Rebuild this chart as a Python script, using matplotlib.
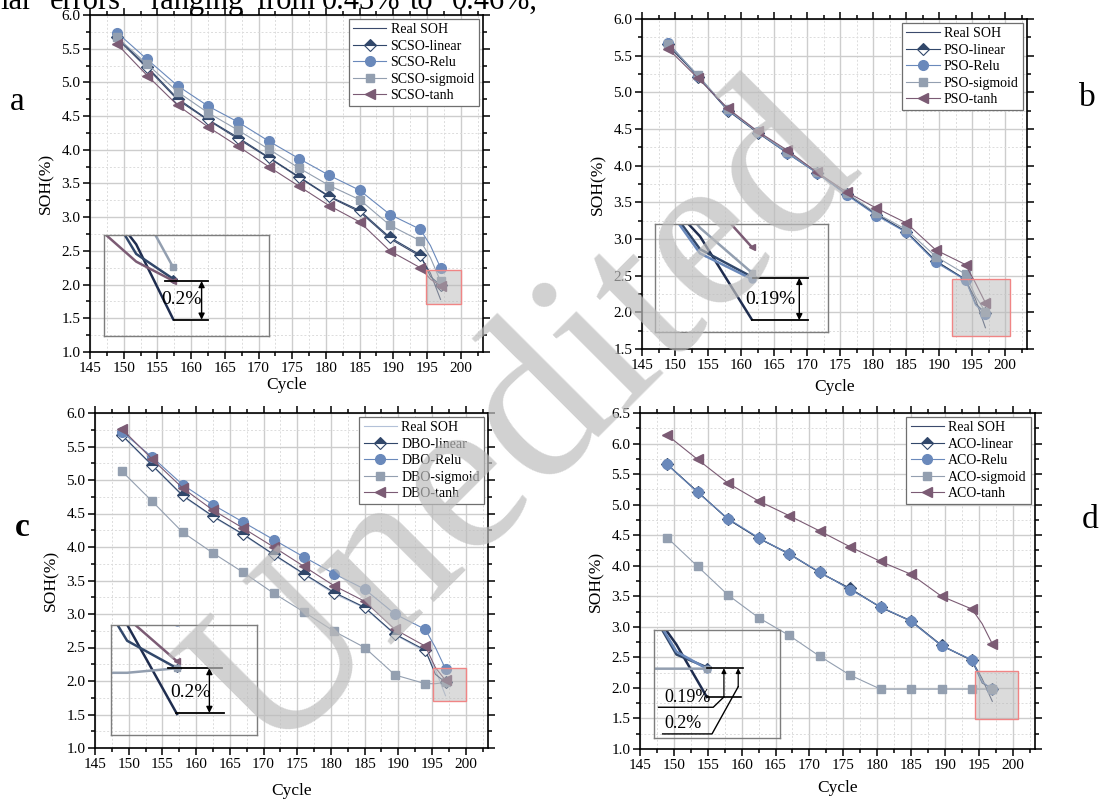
import numpy as np
import matplotlib
matplotlib.use("Agg")
import matplotlib.pyplot as plt
from matplotlib.patches import Rectangle
from matplotlib.ticker import MultipleLocator

plt.rcParams['font.family'] = ['Liberation Serif', 'DejaVu Serif']

# cycles: markers on every point except the 195.5 one
cycle = [149, 153.5, 158, 162.5, 167, 171.5, 176, 180.5, 185, 189.5, 194, 195.5, 197]
mark_idx = [0, 1, 2, 3, 4, 5, 6, 7, 8, 9, 10, 12]

# panel a - SCSO
real_a = [5.65, 5.21, 4.74, 4.44, 4.16, 3.88, 3.59, 3.30, 3.08, 2.68, 2.42, 2.17, 1.78]
lin_a = [5.67, 5.23, 4.76, 4.45, 4.18, 3.89, 3.60, 3.31, 3.10, 2.70, 2.44, 2.12, 1.99]
relu_a = [5.74, 5.34, 4.95, 4.65, 4.41, 4.13, 3.87, 3.62, 3.40, 3.04, 2.82, 2.58, 2.25]
sig_a = [5.67, 5.27, 4.86, 4.55, 4.29, 4.01, 3.73, 3.47, 3.26, 2.88, 2.65, 2.40, 2.05]
tanh_a = [5.57, 5.10, 4.66, 4.34, 4.05, 3.75, 3.46, 3.17, 2.93, 2.50, 2.25, 2.08, 1.98]

# panel b - PSO
real_b = [5.63, 5.22, 4.76, 4.46, 4.18, 3.91, 3.61, 3.34, 3.10, 2.70, 2.44, 2.18, 1.79]
lin_b = [5.66, 5.21, 4.75, 4.45, 4.17, 3.90, 3.61, 3.33, 3.10, 2.70, 2.45, 2.12, 1.99]
relu_b = [5.67, 5.22, 4.76, 4.46, 4.17, 3.90, 3.60, 3.32, 3.09, 2.68, 2.44, 2.10, 1.98]
sig_b = [5.66, 5.23, 4.77, 4.46, 4.19, 3.91, 3.63, 3.35, 3.13, 2.76, 2.52, 2.22, 2.01]
tanh_b = [5.59, 5.19, 4.78, 4.47, 4.21, 3.91, 3.64, 3.42, 3.22, 2.85, 2.65, 2.40, 2.13]

# panel c - DBO
real_c = [5.66, 5.21, 4.76, 4.45, 4.18, 3.88, 3.59, 3.30, 3.09, 2.69, 2.44, 2.17, 1.78]
lin_c = [5.67, 5.22, 4.77, 4.46, 4.19, 3.89, 3.60, 3.32, 3.10, 2.70, 2.46, 2.10, 1.98]
relu_c = [5.72, 5.34, 4.93, 4.63, 4.37, 4.11, 3.85, 3.60, 3.37, 3.00, 2.77, 2.50, 2.18]
sig_c = [5.13, 4.68, 4.22, 3.91, 3.62, 3.31, 3.03, 2.74, 2.50, 2.09, 1.96, 1.96, 1.98]
tanh_c = [5.76, 5.31, 4.88, 4.55, 4.28, 4.00, 3.71, 3.42, 3.19, 2.77, 2.52, 2.20, 2.01]

# panel d - ACO
real_d = [5.66, 5.21, 4.76, 4.45, 4.19, 3.89, 3.62, 3.32, 3.09, 2.69, 2.45, 2.15, 1.78]
lin_d = [5.66, 5.21, 4.76, 4.45, 4.20, 3.89, 3.63, 3.32, 3.10, 2.70, 2.45, 2.08, 1.99]
relu_d = [5.66, 5.20, 4.77, 4.46, 4.19, 3.90, 3.61, 3.33, 3.09, 2.69, 2.46, 2.10, 1.98]
sig_d = [4.46, 3.99, 3.52, 3.15, 2.86, 2.52, 2.21, 1.98, 1.98, 1.98, 1.98, 1.98, 1.98]
tanh_d = [6.14, 5.74, 5.35, 5.06, 4.82, 4.57, 4.31, 4.07, 3.86, 3.50, 3.29, 3.05, 2.72]

suffixes = ['linear', 'Relu', 'sigmoid', 'tanh']

NAVY = '#1f2d4f'
LIN = '#31476a'
RELU = '#6a89bb'
SIG = '#939fb0'
TANH = '#7b5b74'


def style_axes(ax, ylim, ystep_major):
    ax.set_xlim(145, 203.3)
    ax.set_ylim(*ylim)
    ax.xaxis.set_major_locator(MultipleLocator(5))
    ax.xaxis.set_minor_locator(MultipleLocator(2.5))
    ax.yaxis.set_major_locator(MultipleLocator(ystep_major))
    ax.yaxis.set_minor_locator(MultipleLocator(ystep_major / 2))
    ax.yaxis.set_major_formatter(plt.FormatStrFormatter('%.1f'))
    ax.tick_params(which='both', direction='out', top=True, right=True,
                   labelsize=11, width=1.1, pad=2)
    ax.tick_params(which='major', length=5)
    ax.tick_params(which='minor', length=3)
    ax.grid(which='major', color='#cdcdcd', lw=1.0)
    ax.grid(which='minor', color='#dcdcdc', lw=0.7, ls=(0, (2, 2)))
    ax.set_axisbelow(True)
    for s in ax.spines.values():
        s.set_linewidth(1.2)


def plot_series(ax, series, real_color, lw, ms, labels=None):
    real, lin, relu, sig, tanh = series
    lab = labels if labels else [None] * 5
    ax.plot(cycle, real, color=real_color, lw=lw, label=lab[0])
    ax.plot(cycle, lin, color=LIN, lw=lw, marker='D', ms=ms * 0.85,
            fillstyle='top', markerfacecolor=LIN, markerfacecoloralt='white',
            markeredgecolor=LIN, markeredgewidth=0.8, markevery=mark_idx, label=lab[1])
    ax.plot(cycle, relu, color=RELU, lw=lw, marker='o', ms=ms,
            markerfacecolor=RELU, markeredgecolor=RELU, markevery=mark_idx, label=lab[2])
    ax.plot(cycle, sig, color=SIG, lw=lw, marker='s', ms=ms * 0.9,
            markerfacecolor=SIG, markeredgecolor=SIG, markevery=mark_idx, label=lab[3])
    ax.plot(cycle, tanh, color=TANH, lw=lw, marker='<', ms=ms,
            markerfacecolor=TANH, markeredgecolor=TANH, markevery=mark_idx, label=lab[4])


def draw_panel(ax, name, series, ylim, real_color, red_box, inset_box, inset_lim):
    style_axes(ax, ylim, 0.5)
    labels = ['Real SOH'] + [f'{name}-{s}' for s in suffixes]
    plot_series(ax, series, real_color, 0.8, 7, labels)
    leg = ax.legend(loc='upper right', fontsize=10, fancybox=False, framealpha=1,
                    edgecolor='#6f6f6f', handlelength=2.4, handletextpad=0.3,
                    labelspacing=0.25, borderpad=0.3, borderaxespad=0.3)
    leg.get_frame().set_linewidth(0.9)
    ax.set_xlabel('Cycle', fontsize=12.5, labelpad=2)
    ax.set_ylabel('SOH(%)', fontsize=12.5, labelpad=5)

    x0, x1, y0, y1 = red_box
    ax.add_patch(Rectangle((x0, y0), x1 - x0, y1 - y0, facecolor=(0.72, 0.72, 0.72, 0.5),
                           edgecolor='#f08585', lw=1.0, zorder=4))

    bx0, bx1, by0, by1 = inset_box
    iax = ax.inset_axes([bx0, by0, bx1 - bx0, by1 - by0], transform=ax.transData)
    iax.patch.set_alpha(0)
    iax.set_xticks([])
    iax.set_yticks([])
    for s in iax.spines.values():
        s.set_color('#7d7d7d')
        s.set_linewidth(1.0)
    plot_series(iax, series, NAVY, 1.8, 5)
    iax.set_xlim(*inset_lim[:2])
    iax.set_ylim(*inset_lim[2:])
    return iax


def gap_arrow(iax, top, bot, ax_x, label, txy, fs):
    # top / bot: (x_start, x_end, y) in inset axes fractions
    tr = iax.transAxes
    iax.plot(top[:2], [top[2]] * 2, color='black', lw=1.3, transform=tr, clip_on=False)
    iax.plot(bot[:2], [bot[2]] * 2, color='black', lw=1.3, transform=tr, clip_on=False)
    iax.annotate('', xy=(ax_x, top[2]), xytext=(ax_x, bot[2]), xycoords=tr, textcoords=tr,
                 arrowprops=dict(arrowstyle='<|-|>', color='black', lw=1.0,
                                 mutation_scale=9, shrinkA=0, shrinkB=0))
    iax.text(*txy, label, transform=tr, ha='center', va='center', fontsize=fs)


fig = plt.figure(figsize=(11.02, 8.0), dpi=100)

ax_a = fig.add_axes([90 / 1102, 1 - 352 / 800, 393 / 1102, 337 / 800])
ax_b = fig.add_axes([642 / 1102, 1 - 349 / 800, 385 / 1102, 330 / 800])
ax_c = fig.add_axes([95 / 1102, 1 - 748 / 800, 393 / 1102, 335 / 800])
ax_d = fig.add_axes([640 / 1102, 1 - 749 / 800, 395 / 1102, 336 / 800])

ia = draw_panel(ax_a, 'SCSO', (real_a, lin_a, relu_a, sig_a, tanh_a), (1.0, 6.0), '#3b4a6c',
                (194.9, 200.0, 1.71, 2.21), (147.1, 171.6, 1.23, 2.74), (194.2, 200.9, 1.69, 2.22))
ib = draw_panel(ax_b, 'PSO', (real_b, lin_b, relu_b, sig_b, tanh_b), (1.5, 6.0), '#3b4a6c',
                (191.9, 200.8, 1.68, 2.45), (147.0, 173.1, 1.73, 3.21), (194.2, 199.2, 1.73, 2.24))
ic = draw_panel(ax_c, 'DBO', (real_c, lin_c, relu_c, sig_c, tanh_c), (1.0, 6.0), '#b3c1d8',
                (195.1, 200.0, 1.70, 2.19), (147.3, 169.0, 1.20, 2.84), (195.0, 199.4, 1.69, 2.17))
id_ = draw_panel(ax_d, 'ACO', (real_d, lin_d, relu_d, sig_d, tanh_d), (1.0, 6.5), '#3b4a6c',
                 (194.4, 200.8, 1.49, 2.28), (147.1, 165.6, 1.18, 2.94), (194.4, 200.6, 1.49, 2.25))

ax_b.set_xlabel('Cycle', fontsize=12.5, labelpad=5)
ax_c.set_xlabel('Cycle', fontsize=12.5, labelpad=9)
ax_d.set_xlabel('Cycle', fontsize=12.5, labelpad=6)

gap_arrow(ia, (0.37, 0.63, 0.545), (0.42, 0.63, 0.165), 0.59, '0.2%', (0.47, 0.36), 14)
gap_arrow(ib, (0.57, 0.885, 0.50), (0.56, 0.885, 0.11), 0.836, '0.19%', (0.67, 0.30), 14)
gap_arrow(ic, (0.39, 0.76, 0.606), (0.45, 0.775, 0.197), 0.676, '0.2%', (0.548, 0.385), 14)

# panel d: two arrows with leader lines
tr = id_.transAxes
id_.plot([0.42, 0.71], [0.649, 0.649], color='black', lw=1.2, transform=tr)
id_.plot([0.42, 0.69], [0.382, 0.382], color='black', lw=1.2, transform=tr)
for xa, ya in [(0.556, 0.382), (0.67, 0.477)]:
    id_.annotate('', xy=(xa, 0.649), xytext=(xa, ya), xycoords=tr, textcoords=tr,
                 arrowprops=dict(arrowstyle='-|>', color='black', lw=0.9,
                                 mutation_scale=7, shrinkA=0, shrinkB=0))
id_.plot([0.556, 0.471, 0.034], [0.382, 0.286, 0.286], color='black', lw=1.0, transform=tr)
id_.plot([0.67, 0.461, 0.067], [0.477, 0.038, 0.038], color='black', lw=1.0, transform=tr)
id_.text(0.08, 0.30, '0.19%', transform=tr, fontsize=13, ha='left', va='bottom')
id_.text(0.08, 0.06, '0.2%', transform=tr, fontsize=13, ha='left', va='bottom')

# panel letters
fig.text(17 / 1102, 1 - 102 / 800, 'a', fontsize=24, ha='center', va='center')
fig.text(1087 / 1102, 1 - 98 / 800, 'b', fontsize=24, ha='center', va='center')
fig.text(22 / 1102, 1 - 527 / 800, 'c', fontsize=24, ha='center', va='center', fontweight='bold')
fig.text(1090 / 1102, 1 - 520 / 800, 'd', fontsize=24, ha='center', va='center')

# cut-off line of body text at the very top
words = ['lar', 'errors', 'ranging', 'from', '0.43%', 'to', '0.46%,']
word_x = [0, 50, 150, 256, 322, 410, 452]
for w, xw in zip(words, word_x):
    fig.text(xw / 1102, 1 - 9 / 800, w, fontsize=22, ha='left', va='baseline')

# watermark
fig.text(528 / 1102, 1 - 426 / 800, 'Unedited', fontsize=165, rotation=45,
         rotation_mode='anchor', ha='center', va='center', color='#bdbdbd',
         alpha=0.7, zorder=100)

fig.savefig('out.png', dpi=100)
